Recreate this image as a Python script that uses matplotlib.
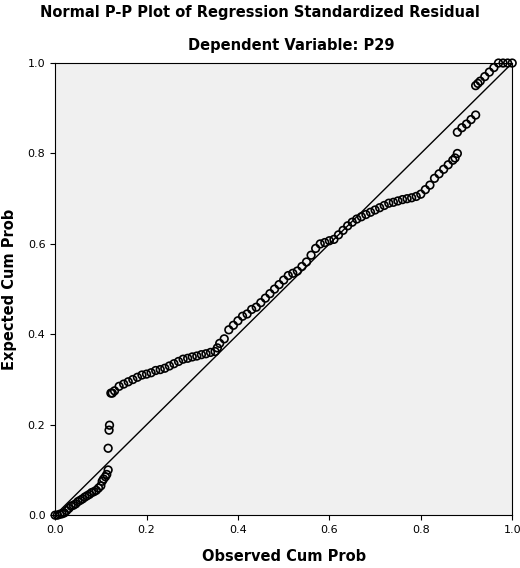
import matplotlib
matplotlib.use('Agg')
import matplotlib.pyplot as plt

# observed cum prob (x) / expected cum prob (y)
obs_low = [0, 0.005, 0.01, 0.015, 0.02, 0.025, 0.03, 0.035, 0.04, 0.045, 0.05, 0.055, 0.06, 0.065,
           0.07, 0.075, 0.08, 0.085, 0.09, 0.095, 0.1, 0.103, 0.106, 0.11, 0.113, 0.116, 0.116,
           0.118, 0.119, 0.122, 0.125]
exp_low = [0, 0, 0.002, 0.003, 0.005, 0.01, 0.015, 0.02, 0.022, 0.025, 0.03, 0.033, 0.036, 0.04,
           0.043, 0.046, 0.05, 0.052, 0.055, 0.06, 0.065, 0.075, 0.08, 0.085, 0.09, 0.1, 0.148,
           0.188, 0.199, 0.27, 0.27]
obs_mid = [0.13, 0.14, 0.15, 0.16, 0.17, 0.18, 0.19, 0.2, 0.21, 0.22, 0.23, 0.24, 0.25, 0.26, 0.27,
           0.28, 0.29, 0.3, 0.31, 0.32, 0.33, 0.34, 0.35, 0.355, 0.36, 0.37, 0.38, 0.39, 0.4, 0.41,
           0.42, 0.43, 0.44, 0.45, 0.46, 0.47, 0.48, 0.49, 0.5, 0.51, 0.52, 0.53, 0.54, 0.55, 0.56,
           0.57, 0.58, 0.59, 0.6, 0.61, 0.62, 0.63, 0.64, 0.65, 0.66, 0.67, 0.68, 0.69, 0.7, 0.71,
           0.72, 0.73, 0.74, 0.75, 0.76, 0.77, 0.78, 0.79, 0.8]
exp_mid = [0.275, 0.285, 0.29, 0.295, 0.3, 0.305, 0.31, 0.312, 0.315, 0.32, 0.322, 0.325, 0.33,
           0.335, 0.34, 0.345, 0.347, 0.35, 0.352, 0.355, 0.357, 0.36, 0.362, 0.37, 0.38, 0.39,
           0.41, 0.42, 0.43, 0.44, 0.445, 0.455, 0.46, 0.47, 0.48, 0.49, 0.5, 0.51, 0.52, 0.53,
           0.535, 0.54, 0.55, 0.56, 0.575, 0.59, 0.6, 0.603, 0.607, 0.61, 0.62, 0.63, 0.64, 0.648,
           0.655, 0.66, 0.665, 0.67, 0.675, 0.68, 0.685, 0.69, 0.692, 0.695, 0.698, 0.7, 0.702,
           0.705, 0.71]
obs_high = [0.81, 0.82, 0.83, 0.84, 0.85, 0.86, 0.87, 0.875, 0.88, 0.88, 0.89, 0.9, 0.91, 0.92,
            0.92, 0.925, 0.93, 0.94, 0.95, 0.96, 0.97, 0.98, 0.99, 1.0]
exp_high = [0.72, 0.73, 0.745, 0.755, 0.765, 0.775, 0.785, 0.79, 0.8, 0.847, 0.857, 0.865, 0.875,
            0.885, 0.95, 0.955, 0.96, 0.97, 0.98, 0.99, 1.0, 1.0, 1.0, 1.0]
obs = obs_low + obs_mid + obs_high
exp = exp_low + exp_mid + exp_high
ticks = [0, 0.2, 0.4, 0.6, 0.8, 1.0]
tick_labels = ['0.0', '0.2', '0.4', '0.6', '0.8', '1.0']

fig = plt.figure(figsize=(5.2, 5.68), dpi=100)
ax = fig.add_axes([0.106, 0.093, 0.879, 0.796])
ax.set_facecolor('#f0f0f0')
ax.plot([0, 1], [0, 1], color='black', lw=1)
ax.scatter(obs, exp, s=30, facecolors='none', edgecolors='black', linewidths=1.2, zorder=3,
           clip_on=False)
ax.set_xlim(0, 1)
ax.set_ylim(0, 1)
ax.set_xticks(ticks)
ax.set_yticks(ticks)
ax.set_xticklabels(tick_labels, fontsize=8)
ax.set_yticklabels(tick_labels, fontsize=8)
ax.set_xlabel('Observed Cum Prob', fontsize=10.5, fontweight='bold', labelpad=10)
ax.set_ylabel('Expected Cum Prob', fontsize=10.5, fontweight='bold', labelpad=8)
fig.text(0.5, 0.978, 'Normal P-P Plot of Regression Standardized Residual', ha='center', va='center',
         fontsize=10.5, fontweight='bold')
fig.text(0.56, 0.92, 'Dependent Variable: P29', ha='center', va='center', fontsize=10.5,
         fontweight='bold')
fig.savefig('out.png', dpi=100)
